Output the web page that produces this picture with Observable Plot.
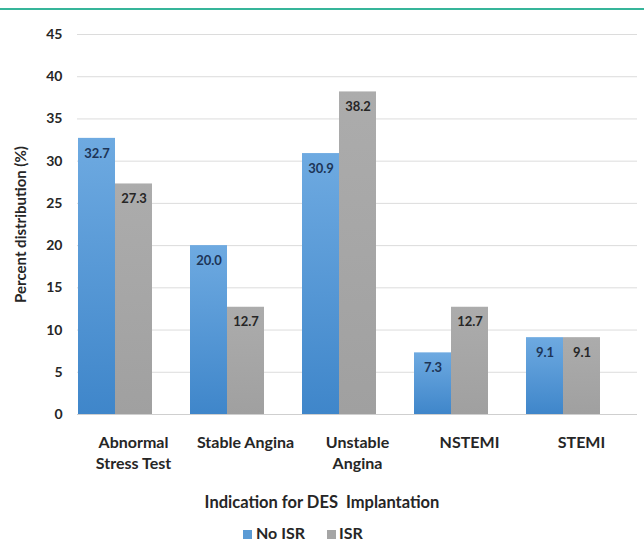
<!DOCTYPE html>
<html><head><meta charset="utf-8">
<script src="https://cdn.jsdelivr.net/npm/d3@7"></script>
<script src="https://cdn.jsdelivr.net/npm/@observablehq/plot@0.6"></script>
<style>
body{margin:0;background:#fff;font-family:Lato,"DejaVu Sans",sans-serif;}
#wrap{position:relative;width:644px;height:543px;overflow:hidden;background:#fff;}
#topline{position:absolute;left:0;top:8px;width:644px;height:2px;background:#36b59a;}
#chart{position:absolute;left:0;top:0;}
#xtitle{position:absolute;left:0;width:644px;top:494px;line-height:17px;text-align:center;font-weight:700;font-size:16.5px;color:#262626;white-space:pre;}
.sw{position:absolute;width:9px;height:9px;top:530px;}
.lt{position:absolute;top:525px;line-height:16px;font-size:16px;font-weight:700;color:#262626;}
</style></head>
<body>
<div id="wrap">
  <div id="chart"></div>
  <div id="topline"></div>
  <div id="xtitle"></div>
  <div class="sw" style="left:243px;background:#5b9bd5"></div><div class="lt" id="l1" style="left:256px"></div>
  <div class="sw" style="left:327px;background:#a5a5a5"></div><div class="lt" id="l2" style="left:339px"></div>
</div>
<script>
const categories = ["Abnormal Stress Test", "Stable Angina", "Unstable Angina", "NSTEMI", "STEMI"];
const categoryLabels = ["Abnormal\nStress Test", "Stable Angina", "Unstable\nAngina", "NSTEMI", "STEMI"];
const series = ["No ISR", "ISR"];
const noIsrValues = [32.7, 20.0, 30.9, 7.3, 9.1];
const isrValues = [27.3, 12.7, 38.2, 12.7, 9.1];
const yTicks = [0, 5, 10, 15, 20, 25, 30, 35, 40, 45];
const yLabel = "Percent distribution (%)";
const xTitle = "Indication for DES  Implantation";

const data = [];
categories.forEach((c, i) => {
  data.push({category: c, series: series[0], value: noIsrValues[i]});
  data.push({category: c, series: series[1], value: isrValues[i]});
});

const chart = Plot.plot({
  width: 644, height: 515,
  marginLeft: 75, marginRight: 6, marginTop: 34, marginBottom: 101,
  style: {fontFamily: "Lato, sans-serif", background: "transparent", color: "#262626"},
  fx: {domain: categories, padding: 0, label: null},
  x: {domain: [...series, "gap"], padding: 0, axis: null},
  y: {domain: [0, 45], ticks: yTicks},
  color: {domain: series, range: ["url(#gBlue)", "url(#gGray)"]},
  marks: [
    Plot.gridY(yTicks, {stroke: "#dcdcdc", strokeOpacity: 1}),
    Plot.barY(data, {fx: "category", x: "series", y: "value", fill: "series"}),
    Plot.ruleY([0], {stroke: "#cfcfcf"}),
    Plot.text(data.filter(d => d.series === series[0]), {fx: "category", x: "series", y: "value", text: d => d.value.toFixed(1), dy: 15, fill: "#1d3557", fontWeight: 700, fontSize: 13}),
    Plot.text(data.filter(d => d.series === series[1]), {fx: "category", x: "series", y: "value", text: d => d.value.toFixed(1), dy: 15, fill: "#262626", fontWeight: 700, fontSize: 13}),
    Plot.axisY(yTicks, {tickSize: 0, tickPadding: 15, fontSize: 14, fontWeight: 700, label: yLabel, labelAnchor: "center", labelArrow: "none", labelOffset: 62, fontSizeLabel: 15}),
    Plot.axisFx({anchor: "bottom", tickSize: 0, tickPadding: 19, tickFormat: d => categoryLabels[categories.indexOf(d)], fontSize: 16, fontWeight: 700, lineHeight: 1.3, label: null})
  ]
});

chart.insertAdjacentHTML("afterbegin",
  '<defs><linearGradient id="gBlue" x1="0" y1="0" x2="0" y2="1"><stop offset="0" stop-color="#6eaae1"/><stop offset="1" stop-color="#3f86ca"/></linearGradient>' +
  '<linearGradient id="gGray" x1="0" y1="0" x2="0" y2="1"><stop offset="0" stop-color="#acacac"/><stop offset="1" stop-color="#a0a0a0"/></linearGradient></defs>');
// enlarge the y-axis title slightly
chart.querySelectorAll("g[aria-label='y-axis label'] text").forEach(t => t.setAttribute("font-size", "15"));
document.getElementById("chart").appendChild(chart);
document.getElementById("xtitle").textContent = xTitle;
document.getElementById("l1").textContent = series[0];
document.getElementById("l2").textContent = series[1];
</script>
</body></html>
